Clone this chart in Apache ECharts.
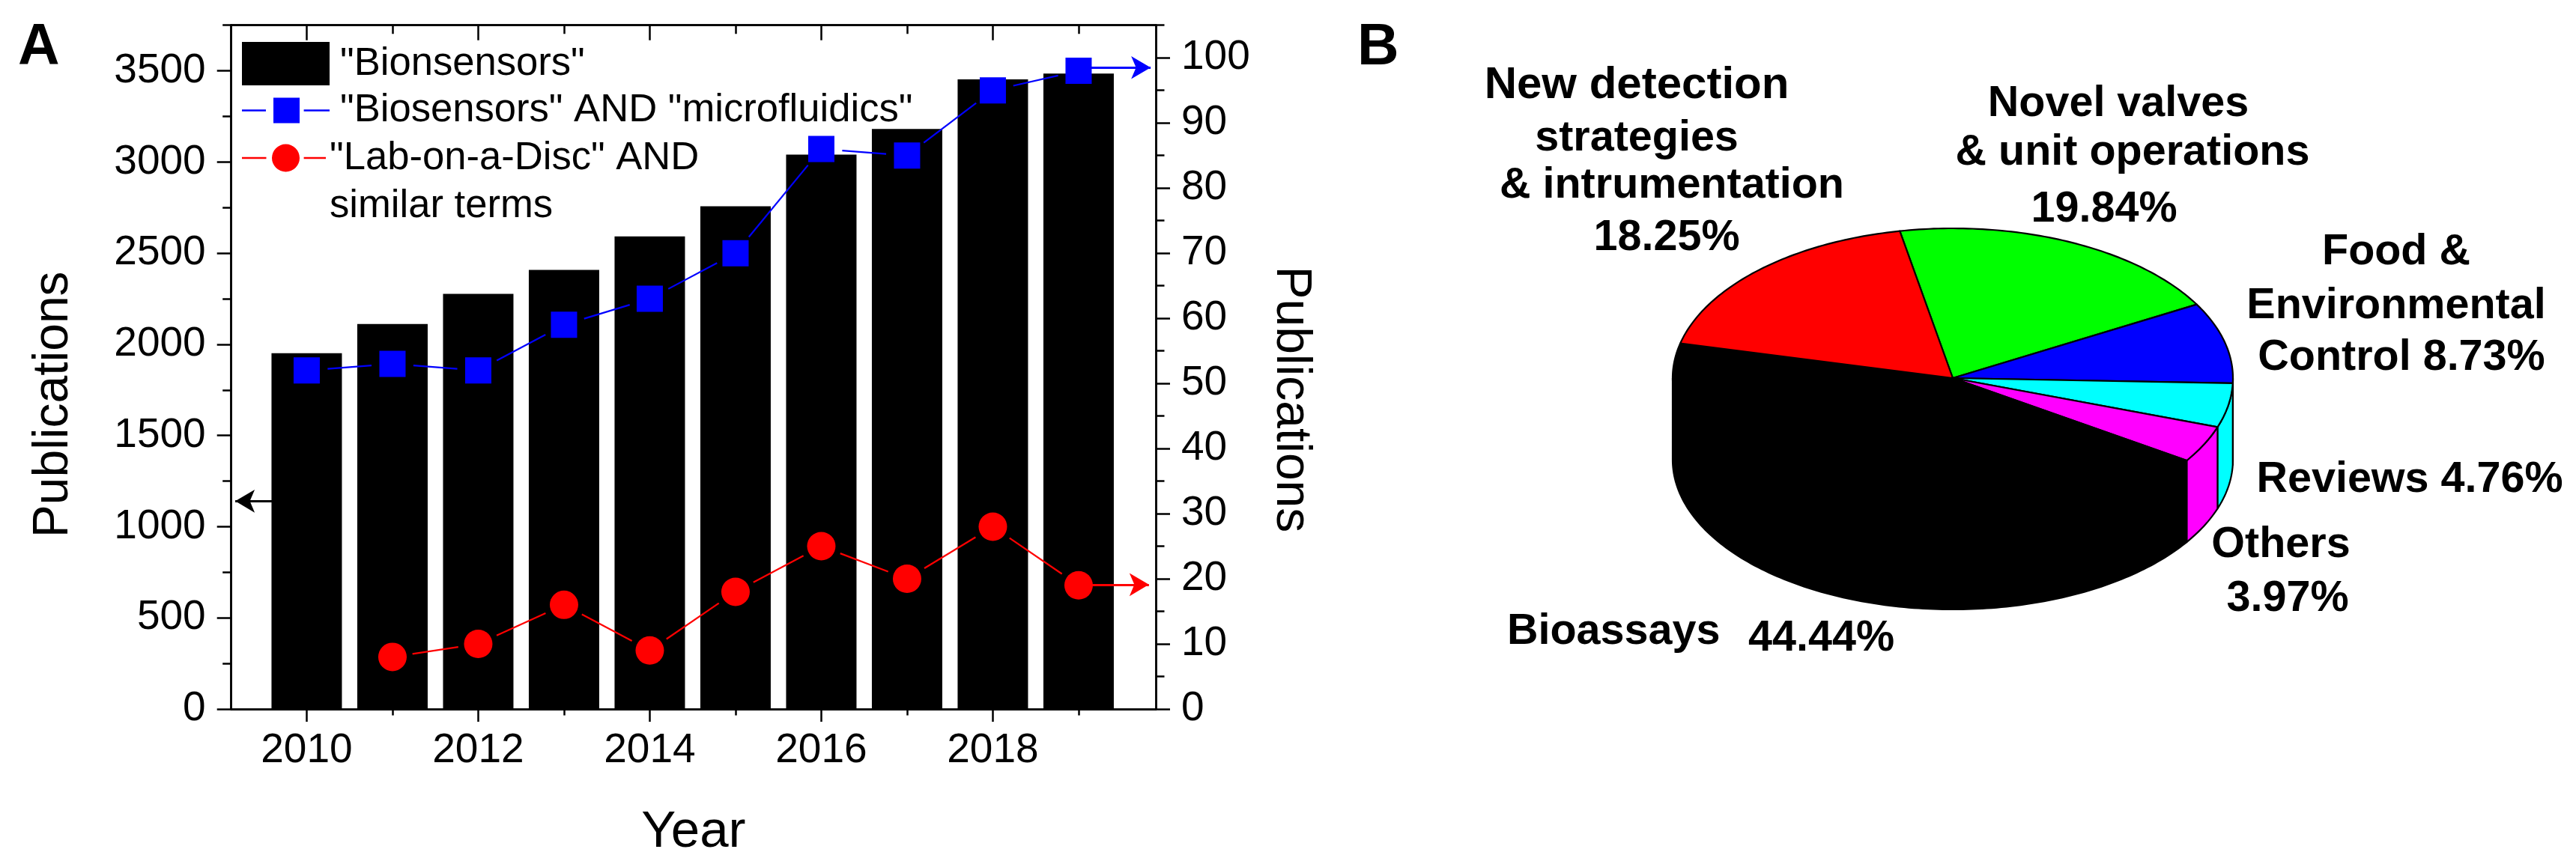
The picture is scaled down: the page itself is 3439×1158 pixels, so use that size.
<!DOCTYPE html>
<html><head><meta charset="utf-8">
<style>html,body{margin:0;padding:0;background:#fff}#c{width:3439px;height:1158px}</style>
<script src="https://cdn.jsdelivr.net/npm/echarts@6/dist/echarts.min.js"></script>
</head><body><div id="c"></div>
<script>
const years = [2010,2011,2012,2013,2014,2015,2016,2017,2018,2019];
const biosensors = [1951,2112,2277,2408,2592,2757,3040,3181,3453,3485];
const microfluidics = [52,53,52,59,63,70,86,85,95,98];
const labYears = [2011,2012,2013,2014,2015,2016,2017,2018,2019];
const labOnDisc = [8,10,16,9,18,25,20,28,19];
const leftMajor = [0,500,1000,1500,2000,2500,3000,3500];
const leftMinor = [250,750,1250,1750,2250,2750,3250,3750];
const rightMajor = [0,10,20,30,40,50,60,70,80,90,100];
const rightMinor = [5,15,25,35,45,55,65,75,85,95,105];
const xMajor = [2010,2012,2014,2016,2018];
const xMinor = [2011,2013,2015,2017,2019];
const pieNames = ['Novel valves & unit operations','Food & Environmental Control','Reviews','Others','Bioassays','New detection strategies & intrumentation'];
const pieValues = [19.84,8.73,4.76,3.97,44.44,18.25];
const pieLabelText = ['New detection','strategies','& intrumentation','18.25%','Novel valves','& unit operations','19.84%','Food &','Environmental','Control 8.73%','Reviews 4.76%','Others','3.97%','Bioassays','44.44%'];

const pieColors = ['#00ff00','#0000ff','#00ffff','#ff00ff','#000000','#ff0000'];
const pieLabelPos = [[2185,134,'center',60],[2185,205,'center'],[2232,268,'center'],[2225,338,'center'],
 [2828,159,'center'],[2847,224,'center'],[2809,300,'center'],
 [3199,357,'center'],[3199,429,'center'],[3206,498,'center'],
 [3217,661,'center'],[3045,748,'center'],[3054,820,'center'],
 [2012,864,'left'],[2334,873,'left']];
const FONT='"Liberation Sans",Arial,sans-serif';
const AXW=2.5;
const PIE={cx:2607,cy:505,rx:374,ry:200,depth:109,start:100.9};

function axisY(pos,vals,len,labels,extra){
  return Object.assign({type:'value',position:pos,min:0,splitLine:{show:false},
    axisLine:{show:true,onZero:false,lineStyle:{color:'#000',width:AXW}},
    axisTick:{show:true,length:len,customValues:vals,lineStyle:{color:'#000',width:AXW}},
    axisLabel:labels?{show:true,customValues:vals,fontFamily:FONT,fontSize:55,color:'#000',margin:34,padding:[0,0,10,0],formatter:v=>String(v)}:{show:false}},extra);
}
function axisX(pos,vals,len,inside,labels,extra){
  return Object.assign({type:'value',position:pos,min:2009.12,max:2019.9,splitLine:{show:false},
    axisLine:{show:true,onZero:false,lineStyle:{color:'#000',width:AXW}},
    axisTick:{show:true,inside:inside,length:len,customValues:vals,lineStyle:{color:'#000',width:AXW}},
    axisLabel:labels?{show:true,customValues:vals,fontFamily:FONT,fontSize:55,color:'#000',margin:28,formatter:v=>String(v)}:{show:false}},extra);
}
function gapSeries(xs,vs,color,gap){
  const segs=[];for(let i=0;i+1<xs.length;i++)segs.push([xs[i],vs[i],xs[i+1],vs[i+1]]);
  return {type:'custom',xAxisIndex:0,yAxisIndex:2,silent:true,z:3,clip:false,data:segs,
    encode:{x:[0,2],y:[1,3]},
    renderItem:(p,api)=>{
      const a=api.coord([api.value(0),api.value(1)]),b=api.coord([api.value(2),api.value(3)]);
      const d=Math.hypot(b[0]-a[0],b[1]-a[1]),ux=(b[0]-a[0])/d,uy=(b[1]-a[1])/d;
      return {type:'line',shape:{x1:a[0]+ux*gap,y1:a[1]+uy*gap,x2:b[0]-ux*gap,y2:b[1]-uy*gap},style:{stroke:color,lineWidth:2.2,fill:null}};
    }};
}
function arrowLine(from,to,color,w){
  return {silent:true,symbol:['none','arrow'],symbolSize:[23,26],animation:false,label:{show:false},
    lineStyle:{color:color,width:w,type:'solid'},data:[[{coord:from},{coord:to}]]};
}
function ell(a,off){const r=a*Math.PI/180;return [PIE.cx+PIE.rx*Math.cos(r),PIE.cy-PIE.ry*Math.sin(r)+(off||0)];}
function pieItem(p,api){
  const i=p.dataIndex;let a0=PIE.start;
  const tot=pieValues.reduce((s,v)=>s+v,0);
  for(let k=0;k<i;k++)a0-=pieValues[k]/tot*360;
  const a1=a0-pieValues[i]/tot*360;
  const top=[[PIE.cx,PIE.cy]];
  for(let a=a0;a>a1;a-=1)top.push(ell(a));top.push(ell(a1));
  const kids=[];
  const s0=Math.min(a0,0),s1=Math.max(a1,-180);
  if(s0>s1){
    const side=[];for(let a=s0;a>s1;a-=1)side.push(ell(a));side.push(ell(s1));
    for(let a=s1;a<s0;a+=1)side.push(ell(a,PIE.depth));side.push(ell(s0,PIE.depth));
    kids.push({type:'polygon',shape:{points:side},style:{fill:pieColors[i],stroke:'#000',lineWidth:2.2,lineJoin:'round'}});
  }
  kids.push({type:'polygon',shape:{points:top},style:{fill:pieColors[i],stroke:'#000',lineWidth:2.2,lineJoin:'round'}});
  return {type:'group',children:kids};
}
const graphicText=[
 {type:'text',x:24,y:26,style:{text:'A',font:'bold 77px '+FONT,fill:'#000'}},
 {type:'text',x:1812,y:26,style:{text:'B',font:'bold 77px '+FONT,fill:'#000'}},
 {type:'text',x:440,y:275,style:{text:'similar terms',font:'52.6px '+FONT,fill:'#000',verticalAlign:'middle'}}
].concat(pieLabelText.map((t,i)=>{const l=pieLabelPos[i];return {type:'text',x:l[0],y:l[1]-19.5,style:{text:t,font:'bold '+(l[3]||57.5)+'px '+FONT,fill:'#000',align:l[2],verticalAlign:'middle'}};}));

const iconBlue='path://M0 15.8H32V18.2H0ZM42 0H77V34H42ZM82.6 15.8H117V18.2H82.6Z';
const iconRed='path://M0 17.3H32.5V19.7H0ZM40 18.5A18.5 18.5 0 1 1 77 18.5A18.5 18.5 0 1 1 40 18.5ZM82.6 17.3H112V19.7H82.6Z';
const S1='"Bionsensors"',S2='"Biosensors" AND "microfluidics"',S3='"Lab-on-a-Disc" AND';

const option={
 animation:false,backgroundColor:'#fff',
 grid:{left:308.7,top:33.7,width:1234.3,height:913.3,containLabel:false,outerBoundsMode:'none'},
 legend:[
  {left:323,top:56,orient:'vertical',itemWidth:117,itemHeight:58,itemGap:7,selectedMode:false,padding:0,
   textStyle:{fontFamily:FONT,fontSize:52.6,color:'#000',padding:[0,0,0,9]},
   data:[{name:S1,icon:'rect'},{name:S2,icon:iconBlue}]},
  {left:323,top:184.5,orient:'vertical',itemWidth:112,itemHeight:58,selectedMode:false,padding:0,
   textStyle:{fontFamily:FONT,fontSize:52.6,color:'#000'},
   data:[{name:S3,icon:iconRed}]}
 ],
 xAxis:[
  axisX('bottom',xMajor,17,false,true,{name:'Year',nameLocation:'middle',nameGap:130,nameMoveOverlap:false,nameTextStyle:{fontFamily:FONT,fontSize:69,color:'#000'}}),
  axisX('bottom',xMinor,8.5,false,false,{}),
  axisX('top',xMajor,20,true,false,{}),
  axisX('top',xMinor,11.5,true,false,{})
 ],
 yAxis:[
  axisY('left',leftMajor,19,true,{max:3750,name:'Publications',nameLocation:'middle',nameRotate:90,nameGap:204,nameMoveOverlap:false,
     nameTextStyle:{fontFamily:FONT,fontSize:66,color:'#000',padding:[0,100,0,0]}}),
  axisY('left',leftMinor,11.5,false,{max:3750}),
  axisY('right',rightMajor,19,true,{max:105,name:'Publications',nameLocation:'middle',nameRotate:-90,nameGap:147,nameMoveOverlap:false,
     nameTextStyle:{fontFamily:FONT,fontSize:66,color:'#000',padding:[0,0,0,86]}}),
  axisY('right',rightMinor,11.5,false,{max:105})
 ],
 series:[
  {name:S1,type:'bar',xAxisIndex:0,yAxisIndex:0,barWidth:94,z:1,itemStyle:{color:'#000'},
   data:years.map((y,i)=>[y,biosensors[i]]),
   markLine:arrowLine([2009.6,1140],[2009.167,1140],'#000',3)},
  gapSeries(years,microfluidics,'#0000ff',28),
  gapSeries(labYears,labOnDisc,'#ff0000',27),
  {name:S2,type:'line',xAxisIndex:0,yAxisIndex:2,z:4,symbol:'rect',symbolSize:35,lineStyle:{width:0},itemStyle:{color:'#0000ff'},
   data:years.map((y,i)=>[y,microfluidics[i]]),
   markLine:arrowLine([2019,98.5],[2019.84,98.5],'#0000ff',3)},
  {name:S3,type:'line',xAxisIndex:0,yAxisIndex:2,z:4,symbol:'circle',symbolSize:38,lineStyle:{width:0},itemStyle:{color:'#ff0000'},
   data:labYears.map((y,i)=>[y,labOnDisc[i]]),
   markLine:arrowLine([2019,19.1],[2019.82,19.1],'#ff0000',3)},
  {type:'custom',coordinateSystem:'none',silent:true,z:2,clip:false,
   data:pieNames.map((n,i)=>({name:n,value:pieValues[i]})),renderItem:pieItem}
 ],
 graphic:graphicText
};
const chart=echarts.init(document.getElementById('c'),null,{renderer:'canvas',width:3439,height:1158});
chart.setOption(option);
</script></body></html>
